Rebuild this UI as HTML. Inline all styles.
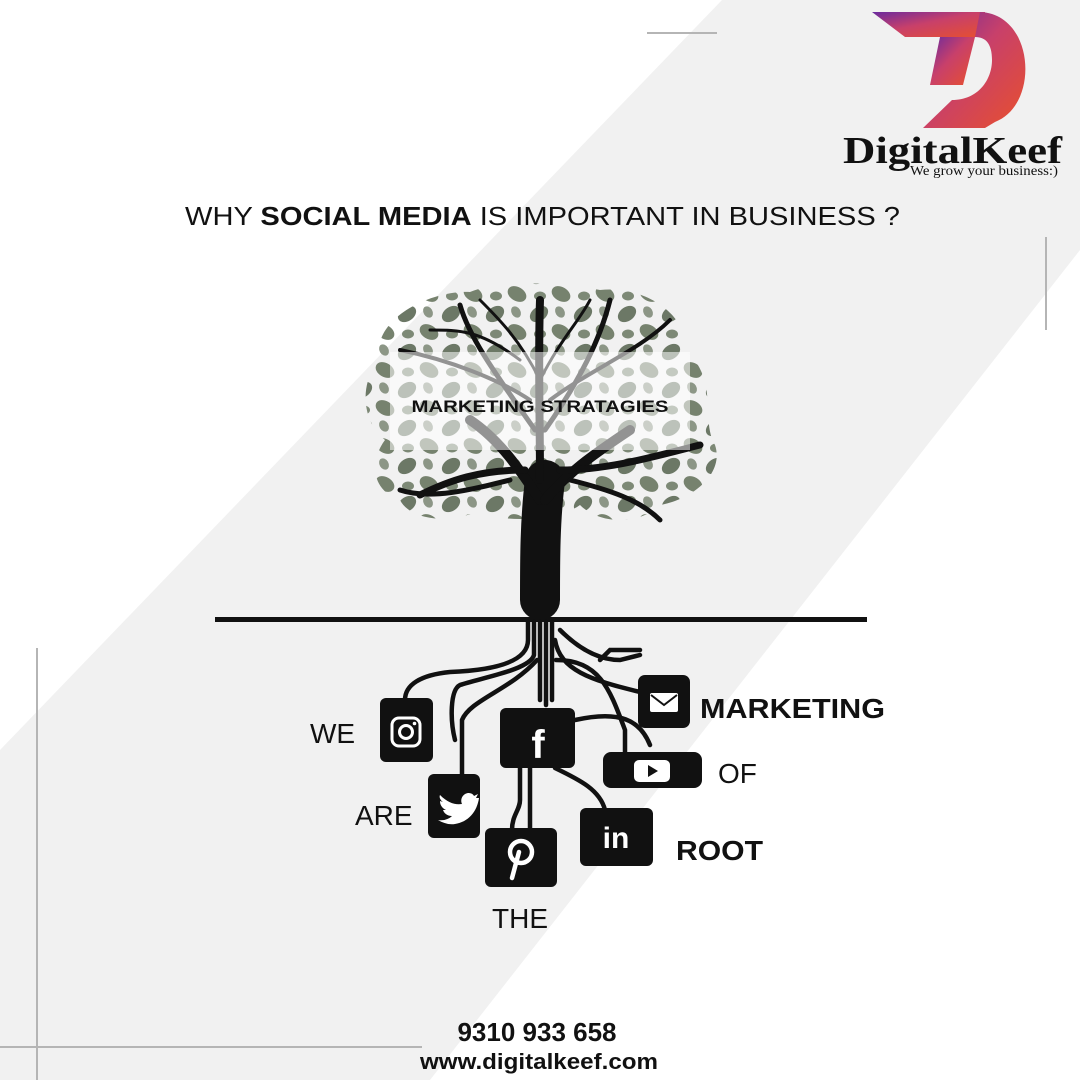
<!DOCTYPE html>
<html><head><meta charset="utf-8"><style>
html,body{margin:0;padding:0;background:#fff}
svg{display:block}
</style></head><body>
<svg width="1080" height="1080" viewBox="0 0 1080 1080" xmlns="http://www.w3.org/2000/svg" font-family="Liberation Sans, sans-serif">
<defs>
<linearGradient id="dg" x1="0" y1="0" x2="1" y2="1">
<stop offset="0" stop-color="#6a2a9e"/><stop offset="0.45" stop-color="#c8406a"/><stop offset="1" stop-color="#e8502c"/>
</linearGradient>
<pattern id="lv" width="44" height="38" patternUnits="userSpaceOnUse">
<ellipse cx="11" cy="10" rx="10" ry="7" fill="#6c7866" transform="rotate(-35 11 10)"/>
<ellipse cx="33" cy="28" rx="10" ry="7" fill="#76826e" transform="rotate(30 33 28)"/>
<ellipse cx="32" cy="8" rx="6" ry="4.5" fill="#8c9686" transform="rotate(60 32 8)"/>
<ellipse cx="12" cy="30" rx="6" ry="4.5" fill="#7d8976"/>
</pattern>
</defs>
<rect width="1080" height="1080" fill="#f1f1f1"/>
<polygon points="0,0 722,0 0,750" fill="#fff"/>
<polygon points="1080,250 1080,1080 430,1080" fill="#fff"/>
<line x1="647" y1="33" x2="717" y2="33" stroke="#b5b5b5" stroke-width="2"/>
<line x1="1046" y1="237" x2="1046" y2="330" stroke="#b5b5b5" stroke-width="2"/>
<line x1="37" y1="648" x2="37" y2="1080" stroke="#b5b5b5" stroke-width="2"/>
<line x1="0" y1="1047" x2="422" y2="1047" stroke="#b5b5b5" stroke-width="2"/>

<!-- logo -->
<g fill="url(#dg)">
<polygon points="872,12 985,12 990,37 905,37"/>
<polygon points="940,37 975,37 963,85 930,85"/>
<path d="M980,12 C1035,14 1040,105 995,122 L985,128 L923,128 L952,100 C978,100 992,80 992,60 C992,44 986,37 975,37 Z"/>
</g>
<text x="843" y="163" style="font-family:'Liberation Serif',serif" font-weight="bold" font-size="38" textLength="219" lengthAdjust="spacingAndGlyphs" fill="#111">DigitalKeef</text>
<text x="910" y="175" style="font-family:'Liberation Serif',serif" font-size="14" textLength="148" lengthAdjust="spacingAndGlyphs" fill="#111">We grow your business:)</text>

<text x="185" y="225" font-size="26" textLength="715" lengthAdjust="spacingAndGlyphs" fill="#111">WHY <tspan font-weight="bold">SOCIAL MEDIA</tspan> IS IMPORTANT IN BUSINESS ?</text>

<!-- canopy -->
<path d="M380,360 C370,320 430,290 470,292 C500,280 560,282 600,290 C650,285 690,320 685,350 C720,380 700,420 715,445 C725,475 690,500 660,505 C640,525 600,525 580,505 C560,520 500,525 480,510 C450,525 410,520 400,500 C370,490 370,460 385,440 C360,420 360,380 380,360 Z" fill="url(#lv)"/>
<g fill="none" stroke="#111" stroke-linecap="round">
<path d="M540,600 C540,560 540,520 545,480" stroke-width="40"/>
<path d="M540,500 C520,470 500,440 470,420" stroke-width="10"/>
<path d="M545,500 C570,470 600,450 630,430" stroke-width="10"/>
<path d="M525,470 C480,470 450,480 420,495" stroke-width="7"/>
<path d="M560,470 C610,470 660,455 700,445" stroke-width="7"/>
<path d="M510,480 C470,490 430,500 400,490" stroke-width="5"/>
<path d="M570,480 C610,490 640,500 660,520" stroke-width="5"/>
<path d="M540,480 C540,420 538,360 540,300" stroke-width="8"/>
<path d="M535,430 C500,380 470,340 460,305" stroke-width="5"/>
<path d="M545,430 C580,380 600,340 610,300" stroke-width="5"/>
<path d="M530,400 C500,380 450,360 400,350" stroke-width="4"/>
<path d="M550,400 C590,370 640,350 670,320" stroke-width="4"/>
<path d="M540,380 C520,340 500,320 480,300" stroke-width="3"/>
<path d="M540,380 C560,340 580,320 590,300" stroke-width="3"/>
<path d="M520,360 C480,330 460,330 430,330" stroke-width="3"/>
</g>
<rect x="390" y="352" width="300" height="98" fill="#fff" opacity="0.55"/>
<text x="540" y="412" text-anchor="middle" font-weight="bold" font-size="17" fill="#111" textLength="257" lengthAdjust="spacingAndGlyphs">MARKETING STRATAGIES</text>

<rect x="215" y="617" width="652" height="5" fill="#111"/>

<g fill="none" stroke="#111" stroke-width="4.5" stroke-linecap="round">
<path d="M528,622 L528,640 C528,660 500,670 450,672 C420,675 405,685 405,700"/>
<path d="M534,622 L534,655 C530,670 480,678 460,685 C450,690 450,720 455,740"/>
<path d="M540,622 L540,700"/>
<path d="M546,622 L546,705"/>
<path d="M552,622 L552,700"/>
<path d="M537,660 C510,690 470,700 462,720 L462,790"/>
<path d="M555,640 C560,670 590,680 640,692"/>
<path d="M556,660 C600,660 610,690 625,730 L625,752"/>
<path d="M560,630 C580,650 600,660 620,660 L640,655"/>
<path d="M575,720 C620,710 640,720 650,745"/>
<path d="M520,768 L520,800 C520,810 512,815 512,830"/>
<path d="M530,768 L530,828"/>
<path d="M555,768 C580,780 600,790 605,810"/>
<path d="M600,660 L610,650 L640,650"/>
</g>

<g fill="#111">
<rect x="380" y="698" width="53" height="64" rx="6"/>
<rect x="500" y="708" width="75" height="60" rx="6"/>
<rect x="638" y="675" width="52" height="53" rx="7"/>
<rect x="603" y="752" width="99" height="36" rx="8"/>
<rect x="428" y="774" width="52" height="64" rx="6"/>
<rect x="485" y="828" width="72" height="59" rx="6"/>
<rect x="580" y="808" width="73" height="58" rx="6"/>
</g>
<rect x="392" y="718" width="28" height="28" rx="7" fill="none" stroke="#fff" stroke-width="3"/>
<circle cx="406" cy="732" r="6.5" fill="none" stroke="#fff" stroke-width="3"/>
<circle cx="414.5" cy="723.5" r="1.8" fill="#fff"/>
<text x="538" y="758" text-anchor="middle" font-weight="bold" font-size="40" fill="#fff">f</text>
<rect x="650" y="693" width="28" height="19" rx="2" fill="#fff"/>
<path d="M651,695 L664,705 L677,695" fill="none" stroke="#111" stroke-width="2"/>
<rect x="634" y="760" width="36" height="22" rx="5" fill="#fff"/>
<polygon points="648,765 648,777 658,771" fill="#111"/>
<path d="M440,795 C448,803 455,805 462,804 C460,800 462,794 468,793 C471,793 473,794 474,796 L478,794 L476,798 L479,798 C477,812 468,822 455,824 C449,825 443,823 438,820 C444,821 449,819 452,816 C447,816 444,813 443,810 L446,810 C442,808 440,805 440,801 L443,802 C440,800 439,797 440,795 Z" fill="#fff"/>
<circle cx="521" cy="852" r="11" fill="none" stroke="#fff" stroke-width="4.5"/>
<path d="M519,852 L512,878" stroke="#fff" stroke-width="4.5" stroke-linecap="round"/>
<text x="616" y="848" text-anchor="middle" font-weight="bold" font-size="30" fill="#fff">in</text>

<g font-size="28" fill="#111">
<text x="310" y="743">WE</text>
<text x="355" y="825">ARE</text>
<text x="492" y="928">THE</text>
<text x="718" y="783">OF</text>
<text x="700" y="718" font-weight="bold" textLength="185" lengthAdjust="spacingAndGlyphs">MARKETING</text>
<text x="676" y="860" font-weight="bold" textLength="87" lengthAdjust="spacingAndGlyphs">ROOT</text>
</g>

<text x="537" y="1041" text-anchor="middle" font-weight="bold" font-size="26" fill="#111">9310 933 658</text>
<text x="539" y="1069" text-anchor="middle" font-weight="bold" font-size="22" fill="#111" textLength="238" lengthAdjust="spacingAndGlyphs">www.digitalkeef.com</text>
</svg>
</body></html>
